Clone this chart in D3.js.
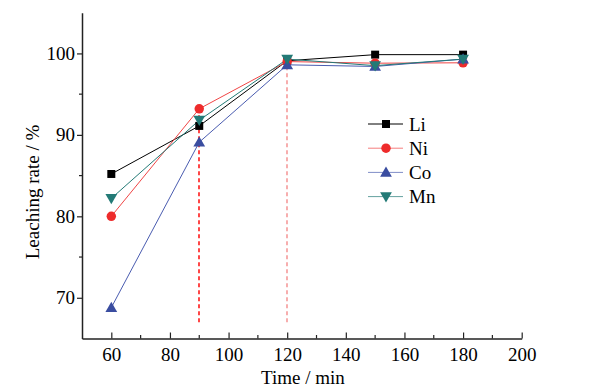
<!DOCTYPE html>
<html><head><meta charset="utf-8">
<script src="https://cdn.jsdelivr.net/npm/d3@7"></script>
<style>body{margin:0;background:#fff}svg{display:block}svg text{font-family:"Liberation Serif","DejaVu Serif","Times New Roman",Times,serif !important;}</style>
</head><body><svg id="c" width="590" height="392"></svg>
<script>
const times = [60, 90, 120, 150, 180];
const li = [85.2, 91.1, 99.1, 99.85, 99.85];
const ni = [80.0, 93.2, 99.0, 98.8, 98.85];
const co = [68.8, 89.1, 98.6, 98.4, 99.3];
const mn = [82.2, 91.8, 99.3, 98.5, 99.3];
const seriesNames = ["Li", "Ni", "Co", "Mn"];
const xTicks = [60, 80, 100, 120, 140, 160, 180, 200];
const yTicks = [70, 80, 90, 100];
const guides = [{t: 90, top: 93.2}, {t: 120, top: 99.2}];
const guideBottom = 67;

const svg = d3.select("#c");
const L = 82, R = 521.7, T = 12.7, B = 338.5;
const x = d3.scaleLinear().domain([50, 200]).range([L, R]);
const y = d3.scaleLinear().domain([65, 105]).range([B, T]);
const fs = 19;
const axisColor = "#222";
const serif = "'Liberation Serif','DejaVu Serif','Times New Roman',serif";

// guides
const guideColors = ["#ff1a1a", "#f59a9a"];
guides.forEach((g, i) => {
  const gx = Math.round(x(g.t));
  svg.append("line").attr("x1", gx).attr("x2", gx)
    .attr("y1", y(guideBottom)).attr("y2", y(g.top))
    .attr("stroke", guideColors[i]).attr("stroke-width", 1.6).attr("stroke-dasharray", "4,3");
});

// axes
const xAxis = svg.append("g").attr("transform", `translate(0,${B})`)
  .call(d3.axisBottom(x).tickValues(xTicks).tickSizeInner(-6).tickSizeOuter(0).tickFormat(d3.format("d")));
xAxis.attr("font-family", serif);
xAxis.select(".domain").attr("stroke", axisColor).attr("stroke-width", 1.5);
xAxis.selectAll(".tick line").attr("stroke", axisColor).attr("stroke-width", 1.2);
xAxis.selectAll("text").attr("font-size", fs).attr("fill", "#000").attr("y", 9).attr("dy", "0.71em");
const xMinor = d3.range(70, 200, 20);
svg.append("g").selectAll("line").data(xMinor).join("line")
  .attr("x1", d => x(d)).attr("x2", d => x(d)).attr("y1", B).attr("y2", B - 3.5)
  .attr("stroke", axisColor).attr("stroke-width", 1.2);

const yAxis = svg.append("g").attr("transform", `translate(${L},0)`)
  .call(d3.axisLeft(y).tickValues(yTicks).tickSizeInner(5).tickSizeOuter(0).tickFormat(d3.format("d")));
yAxis.attr("font-family", serif);
yAxis.select(".domain").attr("stroke", axisColor).attr("stroke-width", 1.5);
yAxis.selectAll(".tick line").attr("stroke", axisColor).attr("stroke-width", 1.2);
yAxis.selectAll("text").attr("font-size", fs).attr("fill", "#000").attr("x", -7);
const yMinor = [75, 85, 95];
svg.append("g").selectAll("line").data(yMinor).join("line")
  .attr("x1", L).attr("x2", L - 3).attr("y1", d => y(d)).attr("y2", d => y(d))
  .attr("stroke", axisColor).attr("stroke-width", 1.2);

svg.append("text").attr("x", (L + R) / 2 + 1).attr("y", 384).attr("text-anchor", "middle")
  .attr("font-family", serif).attr("font-size", fs).text("Time / min");
svg.append("text").attr("transform", `translate(39,192) rotate(-90)`).attr("text-anchor", "middle")
  .attr("font-family", serif).attr("font-size", fs).text("Leaching rate / %");

// series
const series = [
  {name: "Li", vals: li, line: "#000", fill: "#000", sym: d3.symbolSquare, size: 64, rot: 0},
  {name: "Ni", vals: ni, line: "#f04545", fill: "#ee2b2b", sym: d3.symbolCircle, size: 70, rot: 0},
  {name: "Co", vals: co, line: "#4a5cb0", fill: "#3a4da0", sym: d3.symbolTriangle, size: 60, rot: 0},
  {name: "Mn", vals: mn, line: "#237a76", fill: "#237a76", sym: d3.symbolTriangle, size: 60, rot: 180}
];
const lineGen = d3.line().x((d, i) => x(times[i])).y(d => y(d));
series.forEach(s => {
  svg.append("path").attr("d", lineGen(s.vals)).attr("fill", "none").attr("stroke", s.line).attr("stroke-width", 1);
});
series.forEach(s => {
  svg.append("g").selectAll("path").data(s.vals).join("path")
    .attr("d", d3.symbol().type(s.sym).size(s.size))
    .attr("transform", (d, i) => `translate(${x(times[i])},${y(d) + (s.sym === d3.symbolTriangle ? (s.rot ? -1 : 1) : 0)}) rotate(${s.rot})`)
    .attr("fill", s.fill);
});

// legend
const lg = svg.append("g");
series.forEach((s, i) => {
  const yy = 124 + i * 24.2;
  lg.append("line").attr("x1", 368).attr("x2", 403).attr("y1", yy).attr("y2", yy)
    .attr("stroke", s.line).attr("stroke-width", 1).attr("stroke-opacity", i === 0 ? 1 : 0.7);
  lg.append("path").attr("d", d3.symbol().type(s.sym).size(s.size))
    .attr("transform", `translate(386,${yy + (s.sym === d3.symbolTriangle ? (s.rot ? -1 : 1) : 0)}) rotate(${s.rot})`)
    .attr("fill", s.fill);
  lg.append("text").attr("x", 409).attr("y", yy).attr("dy", "0.35em")
    .attr("font-family", serif).attr("font-size", fs).text(seriesNames[i]);
});
</script></body></html>
